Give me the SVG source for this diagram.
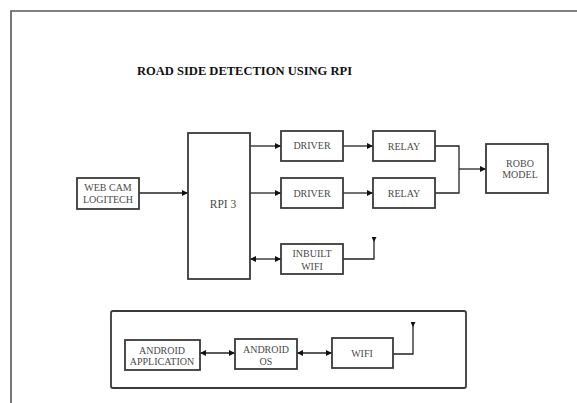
<svg xmlns="http://www.w3.org/2000/svg" width="577" height="403" viewBox="0 0 577 403">
  <style>
    .frame { fill: none; stroke: #555; stroke-width: 1.6; }
    .box { fill: #fff; stroke: #3a3a3a; stroke-width: 1.8; }
    .outline { fill: none; stroke: #3a3a3a; stroke-width: 1.8; }
    .lbl { font-family: "Liberation Serif", "Times New Roman", "DejaVu Serif", serif; font-size: 10px; fill: #4a4a4a; text-anchor: middle; }
    .big { font-size: 11.5px; }
    .title { font-family: "Liberation Serif", "Times New Roman", "DejaVu Serif", serif; font-size: 12.5px; font-weight: bold; fill: #111; }
    .wire { fill: none; stroke: #222; stroke-width: 1.3; }
    .arrow { marker-end: url(#head); }
    .both { marker-start: url(#head); marker-end: url(#head); }
    .aerial { marker-end: url(#ant); }
  </style>
  <defs>
    <marker id="head" viewBox="0 0 8 8" refX="8" refY="4" markerWidth="6" markerHeight="6" markerUnits="userSpaceOnUse" orient="auto-start-reverse">
      <path d="M0,0 L8,4 L0,8 Z" fill="#111"/>
    </marker>
    <marker id="ant" viewBox="0 0 8 8" refX="8" refY="4" markerWidth="5" markerHeight="5" markerUnits="userSpaceOnUse" orient="auto">
      <path d="M8,0 L0,4 L8,8 Z" fill="#111"/>
    </marker>
  </defs>

  <rect width="577" height="403" fill="#fff"/>

  <!-- page frame -->
  <path class="frame" d="M11,403 V11 H577"/>

  <text class="title" x="137" y="75" textLength="215" lengthAdjust="spacingAndGlyphs">ROAD SIDE DETECTION USING RPI</text>

  <!-- phone enclosure -->
  <g id="phone">
    <rect class="outline" x="111" y="311" width="355" height="77" rx="2"/>
  </g>

  <!-- connectors -->
  <g id="connectors">
    <line class="wire arrow" x1="139" y1="193" x2="188" y2="193"/>
    <line class="wire arrow" x1="250" y1="146" x2="281" y2="146"/>
    <line class="wire arrow" x1="250" y1="193" x2="281" y2="193"/>
    <line class="wire both" x1="250" y1="259" x2="281" y2="259"/>
    <line class="wire arrow" x1="343" y1="146" x2="373" y2="146"/>
    <line class="wire arrow" x1="343" y1="193" x2="373" y2="193"/>
    <path class="wire" d="M435,146 H459 V193 H435"/>
    <line class="wire arrow" x1="459" y1="169" x2="486" y2="169"/>
    <path class="wire aerial" d="M343,259 H374 V237"/>
    <line class="wire both" x1="200" y1="353" x2="235" y2="353"/>
    <line class="wire both" x1="297" y1="353" x2="332" y2="353"/>
    <path class="wire aerial" d="M393,354 H413 V322"/>
  </g>

  <g id="webcam">
    <rect class="box" x="77" y="178" width="62" height="31"/>
    <text class="lbl" x="108" y="190.5">WEB CAM</text>
    <text class="lbl" x="108" y="202.5">LOGITECH</text>
  </g>

  <g id="rpi">
    <rect class="box" x="188" y="133" width="62" height="146"/>
    <text class="lbl big" x="223" y="208">RPI 3</text>
  </g>

  <g id="driver1">
    <rect class="box" x="281" y="131" width="62" height="30"/>
    <text class="lbl" x="312" y="149">DRIVER</text>
  </g>

  <g id="driver2">
    <rect class="box" x="281" y="178" width="62" height="30"/>
    <text class="lbl" x="312" y="196.5">DRIVER</text>
  </g>

  <g id="relay1">
    <rect class="box" x="373" y="131" width="62" height="30"/>
    <text class="lbl" x="404" y="149.5">RELAY</text>
  </g>

  <g id="relay2">
    <rect class="box" x="373" y="178" width="62" height="30"/>
    <text class="lbl" x="404" y="196.5">RELAY</text>
  </g>

  <g id="robo">
    <rect class="box" x="486" y="144" width="62" height="49"/>
    <text class="lbl" x="520" y="166.5">ROBO</text>
    <text class="lbl" x="520" y="177.5">MODEL</text>
  </g>

  <g id="inbuilt-wifi">
    <rect class="box" x="281" y="244" width="62" height="30"/>
    <text class="lbl" x="312" y="256.5">INBUILT</text>
    <text class="lbl" x="312" y="269.5">WIFI</text>
  </g>

  <g id="android-app">
    <rect class="box" x="125" y="340" width="75" height="30"/>
    <text class="lbl" x="162" y="353.5">ANDROID</text>
    <text class="lbl" x="162" y="364.5">APPLICATION</text>
  </g>

  <g id="android-os">
    <rect class="box" x="235" y="339" width="62" height="30"/>
    <text class="lbl" x="266" y="352.5">ANDROID</text>
    <text class="lbl" x="266" y="364.5">OS</text>
  </g>

  <g id="wifi">
    <rect class="box" x="332" y="338" width="61" height="30"/>
    <text class="lbl" x="362" y="356.5">WIFI</text>
  </g>
</svg>
